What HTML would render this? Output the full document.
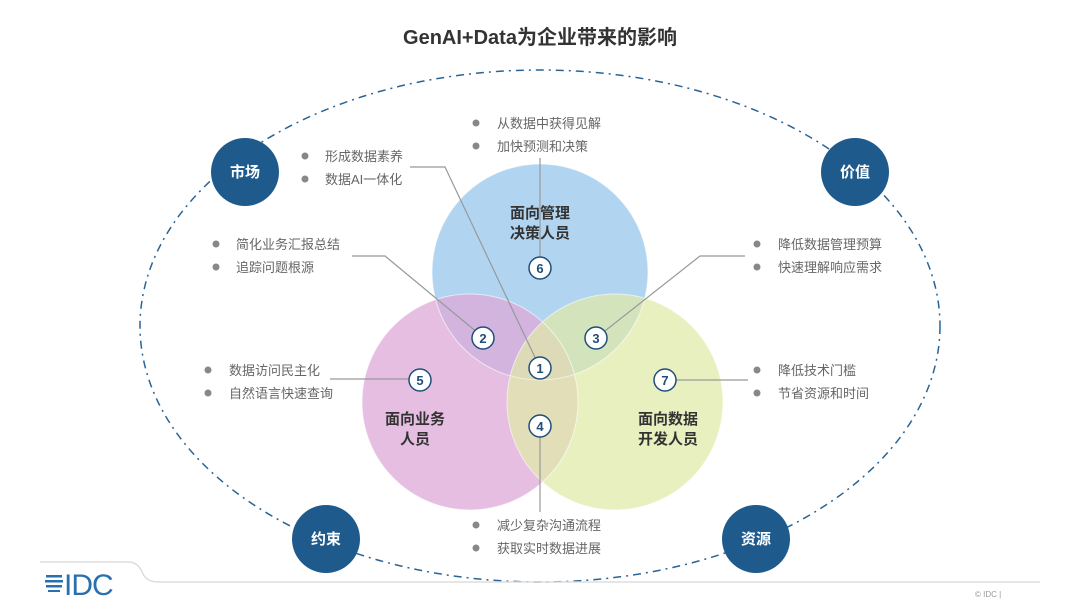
<!DOCTYPE html>
<html><head><meta charset="utf-8"><style>
body{margin:0;background:#fff;}
svg text{font-family:"Liberation Sans","Noto Sans CJK SC",sans-serif;}
</style></head><body>
<svg width="1080" height="607" viewBox="0 0 1080 607" xmlns="http://www.w3.org/2000/svg">
<rect width="1080" height="607" fill="#fff"/>
<text x="540" y="44" text-anchor="middle" font-size="20" font-weight="bold" fill="#333">GenAI+Data为企业带来的影响</text>
<ellipse cx="540" cy="326" rx="400" ry="256" fill="none" stroke="#2a6496" stroke-width="1.5" stroke-dasharray="8,5,2,5"/>
<!-- venn -->
<circle cx="540" cy="272" r="108" fill="#a9d0f0" opacity="0.9"/>
<circle cx="470" cy="402" r="108" fill="#dea8d8" opacity="0.75"/>
<circle cx="615" cy="402" r="108" fill="#e0eaa8" opacity="0.72"/>
<g fill="none" stroke="#fff" stroke-width="1" opacity="0.6">
<circle cx="540" cy="272" r="108"/><circle cx="470" cy="402" r="108"/><circle cx="615" cy="402" r="108"/>
</g>
<!-- connector lines -->
<g stroke="#999" stroke-width="1.2" fill="none">
<polyline points="410,167 445,167 540,368"/>
<polyline points="352,256 385,256 484,338"/>
<line x1="540" y1="158" x2="540" y2="268"/>
<polyline points="596,338 700,256 745,256"/>
<line x1="330" y1="379" x2="420" y2="379"/>
<line x1="665" y1="380" x2="748" y2="380"/>
<line x1="540" y1="426" x2="540" y2="512"/>
</g>
<!-- numbers -->
<g font-size="13" font-weight="bold" fill="#1f4e79" text-anchor="middle">
<g stroke="#1f4e79" stroke-width="1.5" fill="#fff">
<circle cx="540" cy="368" r="11"/><circle cx="483" cy="338" r="11"/><circle cx="596" cy="338" r="11"/>
<circle cx="540" cy="426" r="11"/><circle cx="420" cy="380" r="11"/><circle cx="540" cy="268" r="11"/><circle cx="665" cy="380" r="11"/>
</g>
<text x="540" y="373">1</text><text x="483" y="343">2</text><text x="596" y="343">3</text>
<text x="540" y="431">4</text><text x="420" y="385">5</text><text x="540" y="273">6</text><text x="665" y="385">7</text>
</g>
<!-- circle labels -->
<g font-size="15" font-weight="bold" fill="#333" text-anchor="middle">
<text x="540" y="218">面向管理</text><text x="540" y="238">决策人员</text>
<text x="415" y="424">面向业务</text><text x="415" y="444">人员</text>
<text x="668" y="424">面向数据</text><text x="668" y="444">开发人员</text>
</g>
<!-- bullets -->
<g font-size="13" fill="#666">
<g fill="#888"><circle cx="476" cy="123" r="3.5"/><circle cx="476" cy="146" r="3.5"/>
<circle cx="305" cy="156" r="3.5"/><circle cx="305" cy="179" r="3.5"/>
<circle cx="216" cy="244" r="3.5"/><circle cx="216" cy="267" r="3.5"/>
<circle cx="757" cy="244" r="3.5"/><circle cx="757" cy="267" r="3.5"/>
<circle cx="208" cy="370" r="3.5"/><circle cx="208" cy="393" r="3.5"/>
<circle cx="757" cy="370" r="3.5"/><circle cx="757" cy="393" r="3.5"/>
<circle cx="476" cy="525" r="3.5"/><circle cx="476" cy="548" r="3.5"/></g>
<text x="497" y="128">从数据中获得见解</text><text x="497" y="151">加快预测和决策</text>
<text x="325" y="161">形成数据素养</text><text x="325" y="184">数据AI一体化</text>
<text x="236" y="249">简化业务汇报总结</text><text x="236" y="272">追踪问题根源</text>
<text x="778" y="249">降低数据管理预算</text><text x="778" y="272">快速理解响应需求</text>
<text x="229" y="375">数据访问民主化</text><text x="229" y="398">自然语言快速查询</text>
<text x="778" y="375">降低技术门槛</text><text x="778" y="398">节省资源和时间</text>
<text x="497" y="530">减少复杂沟通流程</text><text x="497" y="553">获取实时数据进展</text>
</g>
<!-- badges -->
<g fill="#1f5a8c"><circle cx="245" cy="172" r="34"/><circle cx="855" cy="172" r="34"/><circle cx="326" cy="539" r="34"/><circle cx="756" cy="539" r="34"/></g>
<g font-size="15" font-weight="bold" fill="#fff" text-anchor="middle">
<text x="245" y="177">市场</text><text x="855" y="177">价值</text><text x="326" y="544">约束</text><text x="756" y="544">资源</text>
</g>
<!-- footer -->
<path d="M40,562 H128 Q138,562 142,572 Q146,582 158,582 H1040" fill="none" stroke="#ddd" stroke-width="1.5"/>
<g fill="#2a6fb0"><rect x="46" y="575" width="16" height="2.5"/><rect x="45" y="580" width="18" height="2.5"/><rect x="46" y="585" width="16" height="2.5"/><rect x="48" y="590" width="12" height="2"/></g>
<text x="64" y="595" font-size="30" fill="#2a6fb0" font-family="Liberation Sans,sans-serif" letter-spacing="-1">IDC</text>
<text x="975" y="597" font-size="8" fill="#999">© IDC |</text>
</svg>
</body></html>
